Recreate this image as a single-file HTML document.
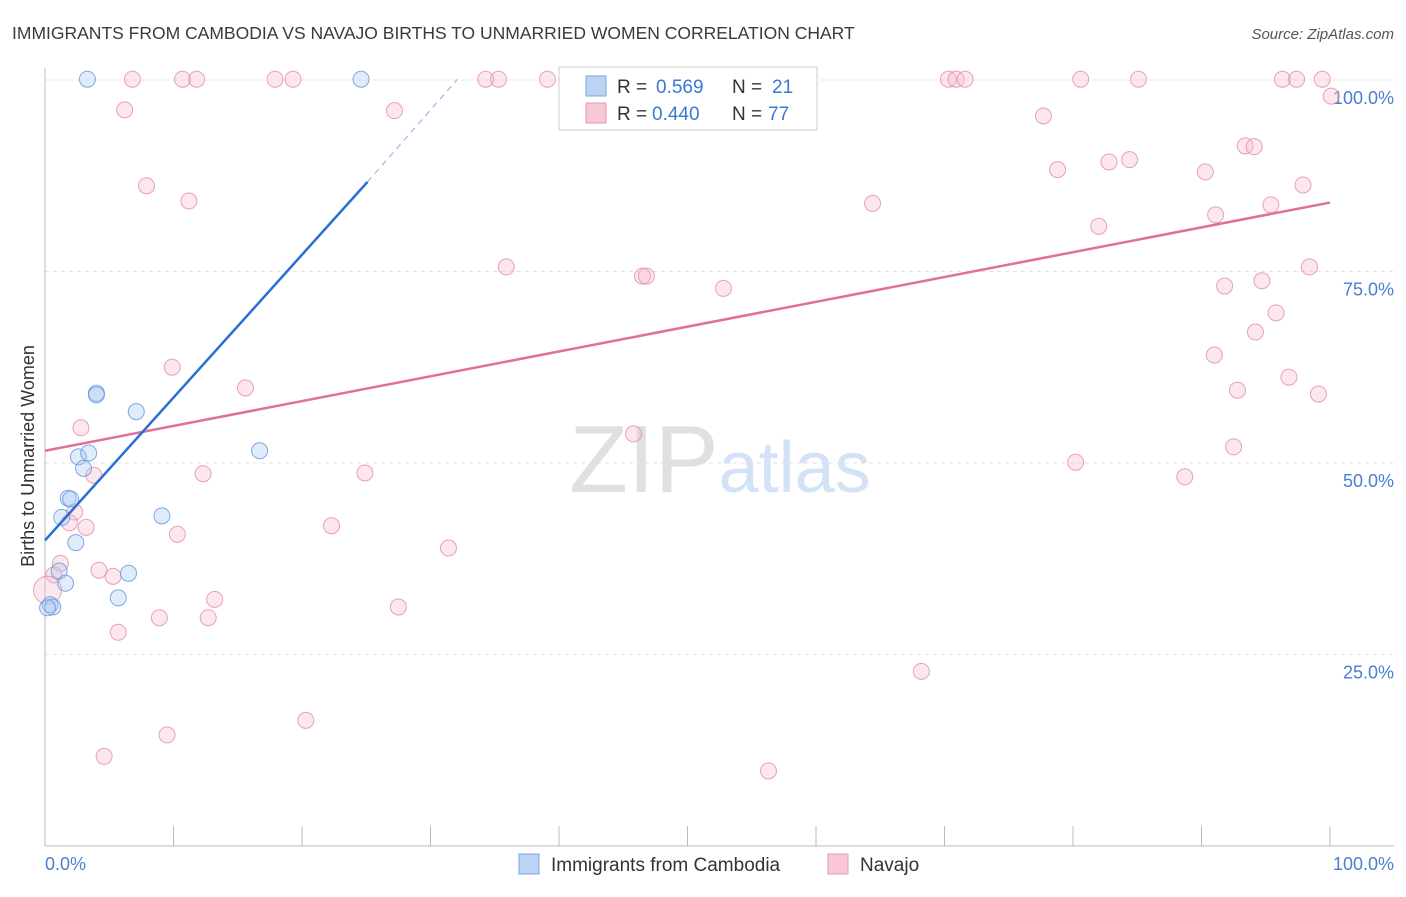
<!DOCTYPE html>
<html><head><meta charset="utf-8"><style>
body{margin:0;background:#fff;font-family:"Liberation Sans",sans-serif;}
svg text{font-family:"Liberation Sans",sans-serif;}
</style></head><body>
<svg width="1406" height="892">
<text x="12" y="39" font-size="17.5" fill="#3a3a3a" font-weight="300">IMMIGRANTS FROM CAMBODIA VS NAVAJO BIRTHS TO UNMARRIED WOMEN CORRELATION CHART</text>
<text x="1394" y="39" font-size="15" fill="#555" font-style="italic" text-anchor="end">Source: ZipAtlas.com</text>
<g id="grid"></g>
<text x="720" y="492" font-size="96" fill="#e0e0e0" text-anchor="middle" font-family="Liberation Serif">ZIP<tspan fill="#d3e2f4" font-family="Liberation Sans" font-size="72">atlas</tspan></text>
<g id="marks"></g>
<text transform="translate(34,456) rotate(-90)" font-size="18" fill="#333" text-anchor="middle">Births to Unmarried Women</text>
<text x="45" y="870" font-size="18" fill="#4a7fd0">0.0%</text>
<text x="1394" y="870" font-size="18" fill="#4a7fd0" text-anchor="end">100.0%</text>
<g>
<rect x="559" y="67" width="258" height="63" fill="#fff" stroke="#ccc"/>
<rect x="586" y="76" width="20" height="20" fill="#bcd4f4" stroke="#7aa6e0"/>
<text x="617" y="93" font-size="19" fill="#333">R =</text>
<text x="656" y="93" font-size="19" fill="#3a78d0">0.569</text>
<text x="732" y="93" font-size="19" fill="#333">N =</text>
<text x="772" y="93" font-size="19" fill="#3a78d0">21</text>
<rect x="586" y="103" width="20" height="20" fill="#f8c8d6" stroke="#e898b0"/>
<text x="617" y="120" font-size="19" fill="#333">R =</text>
<text x="652" y="120" font-size="19" fill="#3a78d0">0.440</text>
<text x="732" y="120" font-size="19" fill="#333">N =</text>
<text x="768" y="120" font-size="19" fill="#3a78d0">77</text>
</g>
<g>
<rect x="519" y="854" width="20" height="20" fill="#bcd4f4" stroke="#7aa6e0"/>
<text x="551" y="871" font-size="19" fill="#333">Immigrants from Cambodia</text>
<rect x="828" y="854" width="20" height="20" fill="#f8c8d6" stroke="#e898b0"/>
<text x="860" y="871" font-size="19" fill="#333">Navajo</text>
</g>
</svg>
<script>
const yTicks=[25,50,75,100];
const yTickLabels=["25.0%","50.0%","75.0%","100.0%"];
const xTicks=[0,10,20,30,40,50,60,70,80,90,100];
const blueX=[3.3,24.6,4.0,4.0,7.1,16.7,2.6,3.4,3.0,1.8,2.0,1.3,9.1,2.4,1.1,1.6,6.5,5.7,0.4,0.6,0.2];
const blueY=[100.1,100.1,59.1,58.9,56.7,51.6,50.8,51.3,49.3,45.4,45.3,42.9,43.1,39.6,35.9,34.3,35.6,32.4,31.5,31.2,31.1];
const pinkX=[6.8,10.7,11.8,17.9,19.3,34.3,35.3,39.1,70.3,70.9,71.6,80.6,85.1,96.3,97.4,99.4,100.1,6.2,27.2,7.9,11.2,77.7,78.8,82.8,84.4,90.3,93.4,94.1,64.4,82.0,91.1,95.4,97.9,35.9,46.5,46.8,52.8,91.8,94.7,98.4,95.8,94.2,91.0,9.9,15.6,92.8,96.8,99.1,2.8,45.8,92.5,80.2,12.3,24.9,3.8,88.7,2.3,1.9,3.2,22.3,10.3,31.4,1.2,4.2,5.3,0.7,13.2,27.5,8.9,12.7,5.7,68.2,20.3,9.5,4.6,56.3,0.2];
const pinkY=[100.1,100.1,100.1,100.1,100.1,100.1,100.1,100.1,100.1,100.1,100.1,100.1,100.1,100.1,100.1,100.1,97.9,96.1,96.0,86.2,84.2,95.3,88.3,89.3,89.6,88.0,91.4,91.3,83.9,80.9,82.4,83.7,86.3,75.6,74.4,74.4,72.8,73.1,73.8,75.6,69.6,67.1,64.1,62.5,59.8,59.5,61.2,59.0,54.6,53.8,52.1,50.1,48.6,48.7,48.4,48.2,43.6,42.2,41.6,41.8,40.7,38.9,36.9,36.0,35.2,35.4,32.2,31.2,29.8,29.8,27.9,22.8,16.4,14.5,11.7,9.8,33.4];
const blueTrend=[[0,39.9],[25.1,86.7],[32.1,100.1]];
const pinkTrend=[[0,51.6],[100,84.0]];
const X=v=>45+v*12.85, Y=v=>846-v*7.66;
const NS="http://www.w3.org/2000/svg";
function mk(t,a,p){const e=document.createElementNS(NS,t);for(const k in a)e.setAttribute(k,a[k]);p.appendChild(e);return e;}
const g=document.getElementById('grid'), m=document.getElementById('marks');
yTicks.forEach((t,i)=>{
 const l=mk('line',{x1:45,x2:1394,y1:Y(t),y2:Y(t),stroke:'#e2e2e2','stroke-dasharray':'4,4'},g);
 
 
 const tx=mk('text',{x:1394,y:Y(t)+24,'font-size':18,fill:'#4a7fd0','text-anchor':'end'},g);
 tx.textContent=yTickLabels[i];
 
 
});
const ax=mk('line',{x1:45,x2:1394,y1:846,y2:846,stroke:'#bbb'},g);


const ay=mk('line',{x1:45,x2:45,y1:68,y2:846,stroke:'#bbb'},g);


xTicks.forEach(t=>{
 const l=mk('line',{x1:X(t),x2:X(t),y1:826,y2:846,stroke:'#bbb'},g);
 
 
});
function dot(x,y,r,fill,stroke,name){
 const c=mk('circle',{cx:X(x),cy:Y(y),r:r,fill:fill,'fill-opacity':0.35,stroke:stroke,'stroke-opacity':0.8,'stroke-width':1},m);
 
 
}
pinkX.forEach((x,i)=>dot(x,pinkY[i],i==pinkX.length-1?14:8,'#f6b9cc','#e58aa8','navajo-point'));
blueX.forEach((x,i)=>dot(x,blueY[i],8,'#a9c8f0','#5f95dc','cambodia-point'));
const pt=mk('line',{x1:X(pinkTrend[0][0]),y1:Y(pinkTrend[0][1]),x2:X(pinkTrend[1][0]),y2:Y(pinkTrend[1][1]),stroke:'#e0709a','stroke-width':2.5},m);


const bt=mk('line',{x1:X(blueTrend[0][0]),y1:Y(blueTrend[0][1]),x2:X(blueTrend[1][0]),y2:Y(blueTrend[1][1]),stroke:'#2a6fd6','stroke-width':2.5},m);


const bd=mk('line',{x1:X(blueTrend[1][0]),y1:Y(blueTrend[1][1]),x2:X(blueTrend[2][0]),y2:Y(blueTrend[2][1]),stroke:'#9bb8e0','stroke-width':1.2,'stroke-dasharray':'6,5'},m);


</script>
</body></html>
